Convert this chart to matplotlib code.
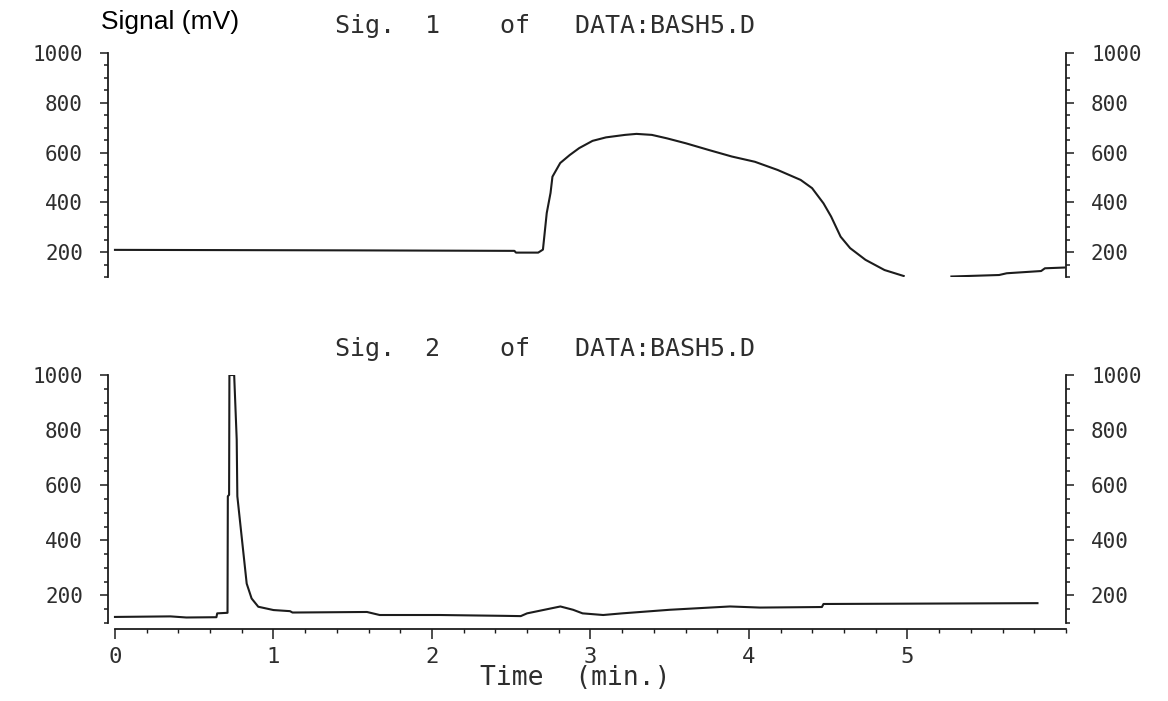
import numpy as np
import matplotlib.pyplot as plt
from matplotlib.ticker import MultipleLocator, FixedLocator

W, H = 1168, 701
MONO = "DejaVu Sans Mono"
INK = "#1c1c1c"
GREY = "#2e2e2e"

# Sig. 1 trace (time in min, signal in mV); nan marks the gap in the trace
sig1_t = [0.0, 1.5, 2.52, 2.53, 2.67, 2.70, 2.724, 2.748, 2.76, 2.809, 2.869, 2.929,
          3.013, 3.098, 3.218, 3.29, 3.387, 3.483, 3.603, 3.748, 3.892, 4.037,
          4.181, 4.326, 4.398, 4.47, 4.518, 4.578, 4.638, 4.735, 4.855, 4.976,
          5.1, 5.277, 5.578, 5.626, 5.843, 5.867, 5.99]
sig1_v = [209, 207, 205, 198, 198, 210, 357, 438, 503, 558, 590, 618,
          647, 661, 671, 675, 671, 657, 637, 610, 584, 563,
          530, 490, 457, 396, 343, 262, 216, 169, 128, 104,
          np.nan, 102, 108, 115, 124, 135, 138]

# Sig. 2 trace
sig2_t = [0.0, 0.35, 0.45, 0.64, 0.645, 0.71, 0.712, 0.72, 0.722, 0.752, 0.768,
          0.772, 0.803, 0.831, 0.862, 0.904, 1.0, 1.104, 1.12, 1.59, 1.67,
          2.05, 2.45, 2.56, 2.6, 2.81, 2.89, 2.95, 3.08, 3.2, 3.5, 3.88,
          4.07, 4.46, 4.47, 5.82]
sig2_v = [122, 124, 120, 121, 135, 137, 560, 565, 1000, 1000, 766,
          560, 393, 243, 189, 159, 147, 143, 138, 140, 129,
          129, 126, 125, 135, 160, 148, 135, 129, 135, 148, 160,
          156, 158, 169, 172]

y_ticks = [200, 400, 600, 800, 1000]
x_ticks = [0, 1, 2, 3, 4, 5]
titles = ["Sig.  1    of   DATA:BASH5.D", "Sig.  2    of   DATA:BASH5.D"]

fig = plt.figure(figsize=(W / 100, H / 100), dpi=100)
ax1 = fig.add_axes([108 / W, 1 - 277 / H, 958 / W, 224 / H])
ax2 = fig.add_axes([108 / W, 1 - 623 / H, 958 / W, 248 / H])

for ax in (ax1, ax2):
    ax.set_xlim(-0.044, 6.0)
    ax.set_ylim(100, 1000)
    ax.spines["top"].set_visible(False)
    for side in ("left", "right", "bottom"):
        ax.spines[side].set_color(INK)
        ax.spines[side].set_linewidth(1.3)
    ax.yaxis.set_major_locator(FixedLocator(y_ticks))
    ax.yaxis.set_minor_locator(MultipleLocator(50))
    ax.tick_params(axis="y", which="both", left=True, right=True,
                   labelleft=True, labelright=True, direction="out",
                   colors=INK, width=1.1)
    ax.tick_params(axis="y", which="major", length=6, pad=12, labelsize=15,
                   labelcolor=GREY)
    ax.tick_params(axis="y", which="minor", length=3)
    for lab in ax.get_yticklabels():
        lab.set_family(MONO)

ax1.spines["bottom"].set_visible(False)
ax1.tick_params(axis="x", which="both", bottom=False, labelbottom=False)
ax1.plot(sig1_t, sig1_v, color=INK, lw=1.5)

ax2.spines["bottom"].set_position(("outward", 4))
ax2.spines["bottom"].set_bounds(0, 6.0)
ax2.xaxis.set_major_locator(FixedLocator(x_ticks))
ax2.xaxis.set_minor_locator(MultipleLocator(0.2))
ax2.tick_params(axis="x", which="major", length=7, width=1.1, labelsize=16,
                colors=INK, labelcolor=GREY, pad=6)
ax2.tick_params(axis="x", which="minor", length=3, width=1.0, colors=INK)
for lab in ax2.get_xticklabels():
    lab.set_family(MONO)
ax2.plot(sig2_t, sig2_v, color=INK, lw=1.5)

fig.text(101 / W, 1 - 22 / H, "Signal (mV)", fontsize=19,
         family="Liberation Sans", color="black", va="center", ha="left")
for ypx, title in zip((26, 349), titles):
    fig.text(335 / W, 1 - ypx / H, title, fontsize=18, family=MONO,
             color=GREY, va="center", ha="left")
fig.text(575 / W, 1 - 678 / H, "Time  (min.)", fontsize=19, family=MONO,
         color=GREY, va="center", ha="center")

fig.savefig("out.png", dpi=100)
